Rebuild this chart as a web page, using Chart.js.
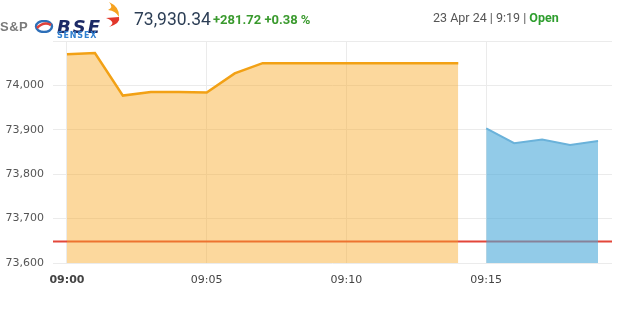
<!DOCTYPE html>
<html>
<head>
<meta charset="utf-8">
<script src="https://cdn.jsdelivr.net/npm/chart.js@4/dist/chart.umd.min.js"></script>
<style>
  html, body { margin: 0; padding: 0; background: #fff; }
  #wrap { position: relative; width: 626px; height: 326px; overflow: hidden; }
  #c { position: absolute; left: 0; top: 0; }
  .t { position: absolute; white-space: nowrap; font-family: Roboto, "Liberation Sans", sans-serif; }
</style>
</head>
<body>
<div id="wrap">
  <canvas id="c" width="626" height="326"></canvas>
  <div class="t" style="left:0px;top:19px;font:bold 13px 'Liberation Sans',Arial,sans-serif;color:#7a7a7a;letter-spacing:0.5px;">S&amp;P</div>
  <svg style="position:absolute;left:34px;top:20px" width="20" height="13" viewBox="0 0 20 13">
    <ellipse cx="10" cy="6.5" rx="8" ry="5.5" fill="none" stroke="#2d6fb8" stroke-width="2.4"/>
    <path d="M3 8 Q10 1 17 5" fill="none" stroke="#e0413a" stroke-width="2.6"/>
  </svg>
  <div class="t" style="left:57px;top:16px;font:italic 900 18px 'DejaVu Sans',sans-serif;color:#1c2a66;letter-spacing:2px;">BSE</div>
  <div class="t" style="left:57px;top:31px;font:bold 8px 'DejaVu Sans',sans-serif;color:#2f7fd0;letter-spacing:0.8px;">SENSEX</div>
  <svg style="position:absolute;left:104px;top:2px" width="20" height="26" viewBox="0 0 20 26">
    <path d="M5 0 Q16 5 15 15 Q12 9 4 8 Q10 5 5 0 Z" fill="#f6a21e"/>
    <path d="M2 16 L15 15 Q17 21 5 25 Q13 20 2 16 Z" fill="#e2362a"/>
  </svg>
  <div class="t" style="left:134px;top:9px;font-size:17.5px;color:#2c3e55;">73,930.34</div>
  <div class="t" style="left:213px;top:12px;font-size:13px;font-weight:bold;color:#3a9a2e;">+281.72 +0.38 %</div>
  <div class="t" style="left:433px;top:10px;font-size:12.5px;color:#555;">23 Apr 24 | 9:19 | <span style="color:#2e9e2e;font-weight:bold;">Open</span></div>
</div>
<script>
// Minute labels (x positions are the index into this list)
const times = ['09:00','09:01','09:02','09:03','09:04','09:05','09:06','09:07','09:08','09:09',
               '09:10','09:11','09:12','09:13','09:14','09:15','09:16','09:17','09:18','09:19'];
// Previous session (orange) 09:00 - 09:14
const orangeValues = [74070, 74073, 73977, 73985, 73985, 73984, 74027, 74050, 74050, 74050,
                      74050, 74050, 74050, 74050, 74050];
// Current session (blue) 09:15 - 09:19
const blueValues = [73903, 73870, 73878, 73866, 73875];
const blueStart = 15;
// Previous close reference line
const prevClose = 73648.62;
// Axis ticks
const yTicks = [73600, 73700, 73800, 73900, 74000, 74100];
const xTickIdx = [0, 5, 10, 15];

const orangePts = orangeValues.map((v, i) => ({ x: i, y: v }));
const bluePts = blueValues.map((v, i) => ({ x: blueStart + i, y: v }));
const refPts = [{ x: -0.5, y: prevClose }, { x: times.length - 0.5, y: prevClose }];

new Chart(document.getElementById('c'), {
  type: 'line',
  data: {
    datasets: [
      { data: refPts, borderColor: '#e3473a', borderWidth: 2, pointRadius: 0, fill: false, order: 3 },
      { data: orangePts, borderColor: '#f2a115', backgroundColor: 'rgba(249,168,37,0.45)',
        borderWidth: 2.5, pointRadius: 0, fill: 'start', tension: 0, order: 1 },
      { data: bluePts, borderColor: '#6ab2da', backgroundColor: 'rgba(74,168,216,0.6)',
        borderWidth: 2, pointRadius: 0, fill: 'start', tension: 0, order: 1 }
    ]
  },
  options: {
    responsive: false,
    animation: false,
    events: [],
    layout: { padding: { top: 41, right: 14, left: 0, bottom: 0 } },
    plugins: { legend: { display: false }, tooltip: { enabled: false } },
    scales: {
      x: {
        type: 'linear',
        min: -0.5,
        max: times.length - 0.5,
        afterBuildTicks: (s) => { s.ticks = xTickIdx.map(v => ({ value: v })); },
        afterFit: (s) => { s.height = 63; },
        grid: { color: '#ebebeb', drawTicks: false },
        border: { display: false },
        ticks: {
          padding: 11,
          color: '#444',
          maxRotation: 0,
          autoSkip: false,
          font: (ctx) => ({ family: 'DejaVu Sans', size: 11, weight: (ctx.tick && ctx.tick.value === 0) ? 'bold' : 'normal' }),
          callback: (v) => times[v]
        }
      },
      y: {
        min: yTicks[0],
        max: yTicks[yTicks.length - 1],
        afterBuildTicks: (s) => { s.ticks = yTicks.map(v => ({ value: v })); },
        afterFit: (s) => { s.width = 53; },
        grid: { color: '#ebebeb', drawTicks: false },
        border: { display: false },
        ticks: {
          padding: 9,
          color: '#555',
          font: { family: 'DejaVu Sans', size: 11 },
          callback: (v) => v === yTicks[yTicks.length - 1] ? '' : v.toLocaleString('en-US')
        }
      }
    }
  }
});
</script>
</body>
</html>
